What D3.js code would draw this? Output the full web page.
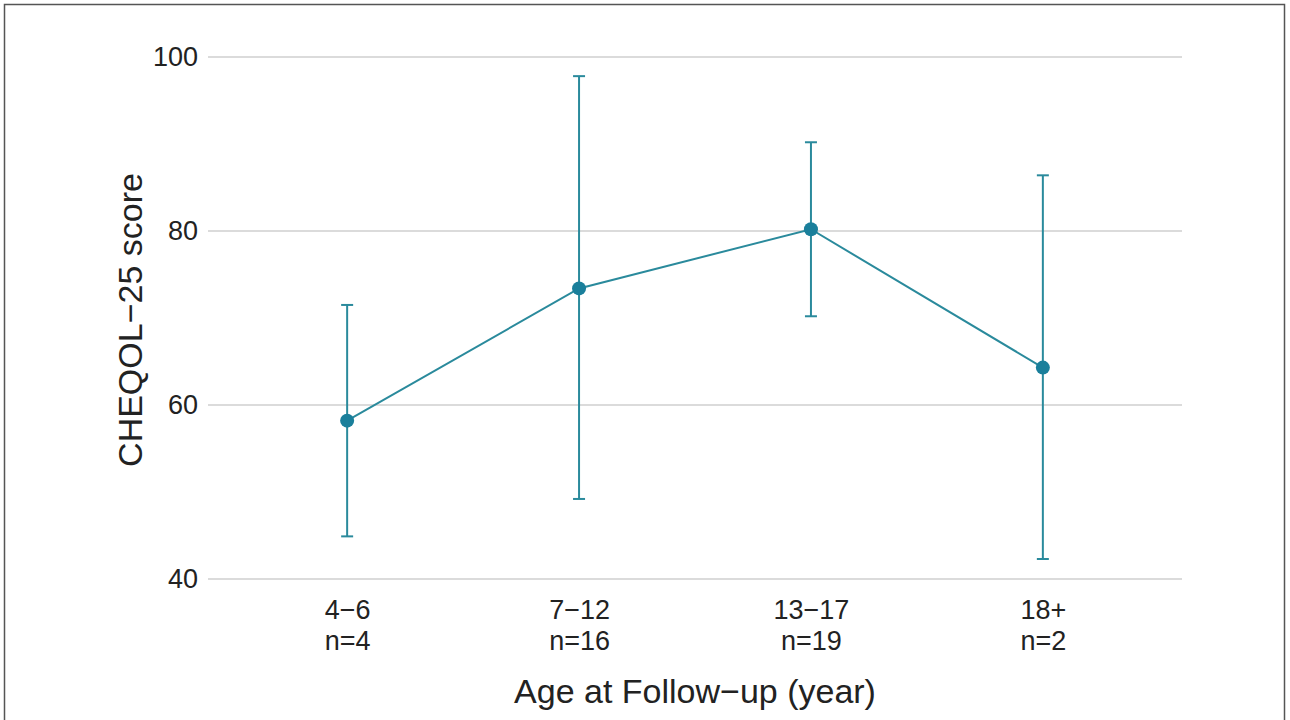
<!DOCTYPE html>
<html><head><meta charset="utf-8">
<script src="https://cdn.jsdelivr.net/npm/d3@7"></script>
<style>body{margin:0;background:#fff;}svg{display:block;font-family:"Liberation Sans",Arial,sans-serif;}</style>
</head><body>
<script>
const categories = ["4\u22126", "7\u221212", "13\u221217", "18+"];
const nLabels = ["n=4", "n=16", "n=19", "n=2"];
const means = [58.2, 73.4, 80.2, 64.3];
const lower = [44.9, 49.2, 70.2, 42.3];
const upper = [71.5, 97.8, 90.2, 86.4];
const yTicks = [40, 60, 80, 100];

const W = 1290, H = 720;
const FONT = "'Liberation Sans',Arial,sans-serif";
const svg = d3.select("body").append("svg").attr("width", W).attr("height", H);
svg.append("rect").attr("x", 4.5).attr("y", 4.5).attr("width", 1280).attr("height", 730)
  .attr("fill", "none").attr("stroke", "#555").attr("stroke-width", 1.5);

const x = d3.scalePoint().domain(categories).range([208, 1182]).padding(0.6);
const y = d3.scaleLinear().domain([40, 100]).range([579, 57]);

// gridlines
svg.append("g").selectAll("line").data(yTicks).join("line")
  .attr("x1", 208).attr("x2", 1182).attr("y1", d => y(d)).attr("y2", d => y(d))
  .attr("stroke", "#cfcfcf").attr("stroke-width", 1.5);

// y axis labels
const yAxis = d3.axisLeft(y).tickValues(yTicks).tickSize(0).tickPadding(10);
const gy = svg.append("g").attr("transform", "translate(208,0)").call(yAxis);
gy.select(".domain").remove();
gy.attr("font-size", 27).attr("font-family", FONT);
gy.selectAll("text").attr("fill", "#222");

// x axis labels
const xAxis = d3.axisBottom(x).tickSize(0).tickPadding(0).tickFormat(() => "");
const gx = svg.append("g").attr("transform", "translate(0,579)").call(xAxis);
gx.select(".domain").remove();
gx.attr("font-size", 27).attr("font-family", FONT);
gx.selectAll(".tick").each(function(d, i) {
  const t = d3.select(this).select("text").text(null).attr("y", 0).attr("dy", null).attr("fill", "#222");
  t.append("tspan").attr("x", 0).attr("y", 40).text(d);
  t.append("tspan").attr("x", 0).attr("y", 71).text(nLabels[i]);
});

const col = "#2a8a9c";
const data = categories.map((c, i) => ({c, m: means[i], lo: lower[i], hi: upper[i]}));

// error bars
const eb = svg.append("g").attr("stroke", col).attr("stroke-width", 2);
eb.selectAll("line.v").data(data).join("line").attr("class", "v")
  .attr("x1", d => x(d.c)).attr("x2", d => x(d.c)).attr("y1", d => y(d.lo)).attr("y2", d => y(d.hi));
eb.selectAll("line.t").data(data).join("line").attr("class", "t")
  .attr("x1", d => x(d.c) - 6).attr("x2", d => x(d.c) + 6).attr("y1", d => y(d.hi)).attr("y2", d => y(d.hi));
eb.selectAll("line.b").data(data).join("line").attr("class", "b")
  .attr("x1", d => x(d.c) - 6).attr("x2", d => x(d.c) + 6).attr("y1", d => y(d.lo)).attr("y2", d => y(d.lo));

// line
svg.append("path").datum(data)
  .attr("d", d3.line().x(d => x(d.c)).y(d => y(d.m)))
  .attr("fill", "none").attr("stroke", col).attr("stroke-width", 2);

// points
svg.append("g").selectAll("circle").data(data).join("circle")
  .attr("cx", d => x(d.c)).attr("cy", d => y(d.m)).attr("r", 7).attr("fill", "#1a7f9b");

// axis titles
svg.append("text").attr("x", 695).attr("y", 703).attr("text-anchor", "middle")
  .attr("font-size", 34).attr("fill", "#222").text("Age at Follow\u2212up (year)");
svg.append("text").attr("transform", "translate(142,320) rotate(-90)").attr("text-anchor", "middle")
  .attr("font-size", 34).attr("fill", "#222").text("CHEQOL\u221225 score");
</script>
</body></html>
